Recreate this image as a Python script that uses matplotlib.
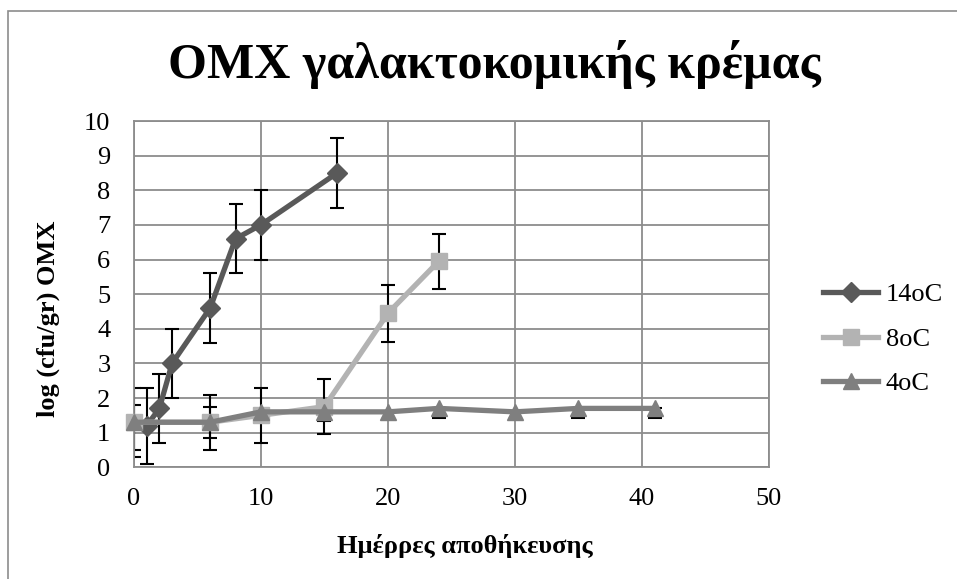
import matplotlib.pyplot as plt
from matplotlib.patches import Rectangle

# data
days_14 = [1, 2, 3, 6, 8, 10, 16]
log_14 = [1.2, 1.7, 3.0, 4.6, 6.6, 7.0, 8.5]
err_14 = [1.1, 1.0, 1.0, 1.0, 1.0, 1.0, 1.0]

days_8 = [0, 6, 10, 15, 20, 24]
log_8 = [1.3, 1.3, 1.5, 1.75, 4.45, 5.95]
err_8 = [1.0, 0.8, 0.8, 0.8, 0.82, 0.8]

days_4 = [0, 6, 10, 15, 20, 24, 30, 35, 41]
log_4 = [1.3, 1.3, 1.6, 1.6, 1.6, 1.7, 1.6, 1.7, 1.7]
err_4_low = [0.8, 0.45, 0.25, 0.25, 0.2, 0.28, 0.2, 0.28, 0.28]
err_4_up = [0.5, 0.45, 0.0, 0.0, 0.0, 0.0, 0.0, 0.0, 0.0]

x_ticks = [0, 10, 20, 30, 40, 50]
y_ticks = list(range(0, 11))

plt.rcParams['font.family'] = ['Liberation Serif', 'DejaVu Serif']

fig = plt.figure(figsize=(9.57, 5.79), dpi=100)
ax = fig.add_axes([0.140, 0.193, 0.6635, 0.598])

series = [
    ("14oC", days_14, log_14, err_14, "#595959", "D", 10),
    ("8oC", days_8, log_8, err_8, "#b3b3b3", "s", 11),
    ("4oC", days_4, log_4, [err_4_low, err_4_up], "#7f7f7f", "^", 12),
]

for name, x, y, e, col, mk, ms in series:
    ax.errorbar(x, y, yerr=e, fmt="none", ecolor="black", elinewidth=1.5,
                capsize=5, capthick=1.5, zorder=2)
    ax.plot(x, y, color=col, lw=3.8, marker=mk, ms=ms, mfc=col, mec=col,
            label=name, zorder=3, clip_on=False)

ax.set_xlim(0, 50)
ax.set_ylim(0, 10)
ax.set_xticks(x_ticks)
ax.set_yticks(y_ticks)
ax.grid(True, color="#8c8c8c", lw=1.3)
ax.set_axisbelow(True)
for s in ax.spines.values():
    s.set_color("#8c8c8c")
    s.set_linewidth(1.3)
ax.tick_params(length=0, labelsize=19)
ax.tick_params(axis="x", pad=15)
ax.tick_params(axis="y", pad=17)

fig.text(0.517, 0.865, "ΟΜΧ γαλακτοκομικής κρέμας", fontsize=36,
         fontweight="bold", ha="center", va="baseline")
ax.set_xlabel("Ημέρρες αποθήκευσης", fontsize=19, fontweight="bold",
              labelpad=17, x=0.521)
ax.set_ylabel("log (cfu/gr) ΟΜΧ", fontsize=19, fontweight="bold",
              labelpad=17, y=0.43)

ax.legend(loc="center left", bbox_to_anchor=(0.86, 0.4145),
          bbox_transform=fig.transFigure, frameon=False, fontsize=19,
          handlelength=2.1, labelspacing=0.8, handletextpad=0.27,
          borderpad=0, borderaxespad=0)

fig.patches.append(Rectangle((0.008, -0.1), 1.2, 1.081, transform=fig.transFigure,
                             fill=False, edgecolor="#8c8c8c", lw=1.2))

fig.savefig("out.png", dpi=100)
